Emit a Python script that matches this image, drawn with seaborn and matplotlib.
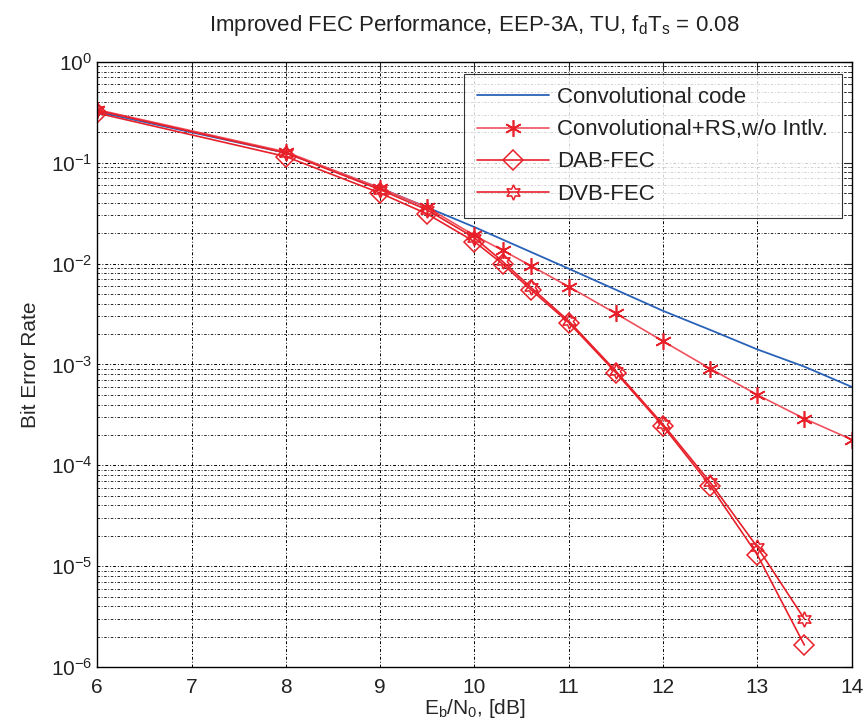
import numpy as np
import pandas as pd
import matplotlib
matplotlib.use("Agg")
import matplotlib.pyplot as plt
import seaborn as sns
from matplotlib.ticker import LogLocator, NullFormatter

# --- data ---
ebn0_conv = [6, 7, 8, 9, 9.5, 10, 10.5, 11, 11.5, 12, 12.5, 13, 13.5, 14]
ber_conv = [0.32, 0.20, 0.125, 0.056, 0.036, 0.023, 0.0143, 0.0089, 0.0055,
            0.0034, 0.0022, 0.00141, 0.00095, 0.0006]

ebn0_rs = [6, 8, 9, 9.5, 10, 10.3, 10.6, 11, 11.5, 12, 12.5, 13, 13.5, 14]
ber_rs = [0.335, 0.128, 0.056, 0.036, 0.019, 0.0135, 0.0095, 0.0059, 0.0032,
          0.0017, 0.00091, 0.0005, 0.00029, 0.00018]

ebn0_fec = [6, 8, 9, 9.5, 10, 10.3, 10.6, 11, 11.5, 12, 12.5, 13, 13.5]
ber_dab = [0.31, 0.115, 0.05, 0.031, 0.0165, 0.0099, 0.0055, 0.0026, 0.00083,
           0.000245, 6.3e-5, 1.3e-5, 1.65e-6]
ber_dvb = [0.33, 0.125, 0.054, 0.034, 0.018, 0.0105, 0.0058, 0.0027, 0.00086,
           0.000255, 6.8e-5, 1.55e-5, 3.0e-6]

sns.set_style("white")
plt.rcParams['font.family'] = ['Liberation Sans', 'DejaVu Sans']
plt.rcParams['mathtext.default'] = 'regular'
plt.rcParams['text.color'] = '#222222'

fig = plt.figure(figsize=(8.68, 7.27), dpi=100)
ax = fig.add_axes([0.112, 0.0825, 0.869, 0.8325])

red = "#e8202a"
sns.lineplot(x=ebn0_conv, y=ber_conv, ax=ax, color="#2a62b8", lw=1.3,
             label="Convolutional code", errorbar=None)
sns.lineplot(x=ebn0_rs, y=ber_rs, ax=ax, color="#f0505c", lw=1.2,
             marker=(6, 2, 0), markersize=12, markeredgewidth=1.2,
             markeredgecolor="#e8202a",
             label="Convolutional+RS,w/o Intlv.", errorbar=None)
sns.lineplot(x=ebn0_fec, y=ber_dab, ax=ax, color=red, lw=1.2,
             marker="D", markersize=10, markerfacecolor="none",
             markeredgecolor=red, markeredgewidth=1.1,
             label="DAB-FEC", errorbar=None)
sns.lineplot(x=ebn0_fec, y=ber_dvb, ax=ax, color=red, lw=1.2,
             marker=(6, 1, 0), markersize=11, markerfacecolor="none",
             markeredgecolor=red, markeredgewidth=1.1,
             label="DVB-FEC", errorbar=None)

ax.set_yscale("log")
ax.set_xlim(6, 14)
ax.set_ylim(1e-6, 1)
ax.set_xticks(range(6, 15))
ax.yaxis.set_major_locator(LogLocator(base=10, numticks=10))
ax.yaxis.set_minor_locator(LogLocator(base=10, subs=np.arange(2, 10), numticks=100))
ax.yaxis.set_minor_formatter(NullFormatter())

ax.grid(True, which="major", color="black", linestyle=(0, (3, 2, 1, 2)), lw=0.7)
ax.grid(True, which="minor", axis="y", color="black", linestyle=(0, (3, 2, 1, 2)), lw=0.6)
ax.tick_params(which="both", direction="in", top=True, right=True, labelsize=15,
               labelcolor="#222222")
ax.tick_params(axis="x", which="major", pad=8)
ax.tick_params(which="major", length=6)
ax.tick_params(which="minor", length=3)
for s in ax.spines.values():
    s.set_color("black")
    s.set_linewidth(1.0)

ax.set_title(r"Improved FEC Performance, EEP-3A, TU, $f_dT_s$ = 0.08",
             fontsize=16, pad=22)
ax.set_xlabel(r"$E_b/N_0$, [dB]", fontsize=15, labelpad=0)
ax.set_ylabel("Bit Error Rate", fontsize=15, labelpad=8)

leg = ax.legend(loc="upper right", bbox_to_anchor=(0.987, 0.980), borderaxespad=0,
                fontsize=16, frameon=True, fancybox=False, edgecolor="black",
                handlelength=3.2, handletextpad=0.4, borderpad=0.6,
                labelspacing=0.5)
leg.get_frame().set_linewidth(0.8)

fig.savefig("out.png", dpi=100)
